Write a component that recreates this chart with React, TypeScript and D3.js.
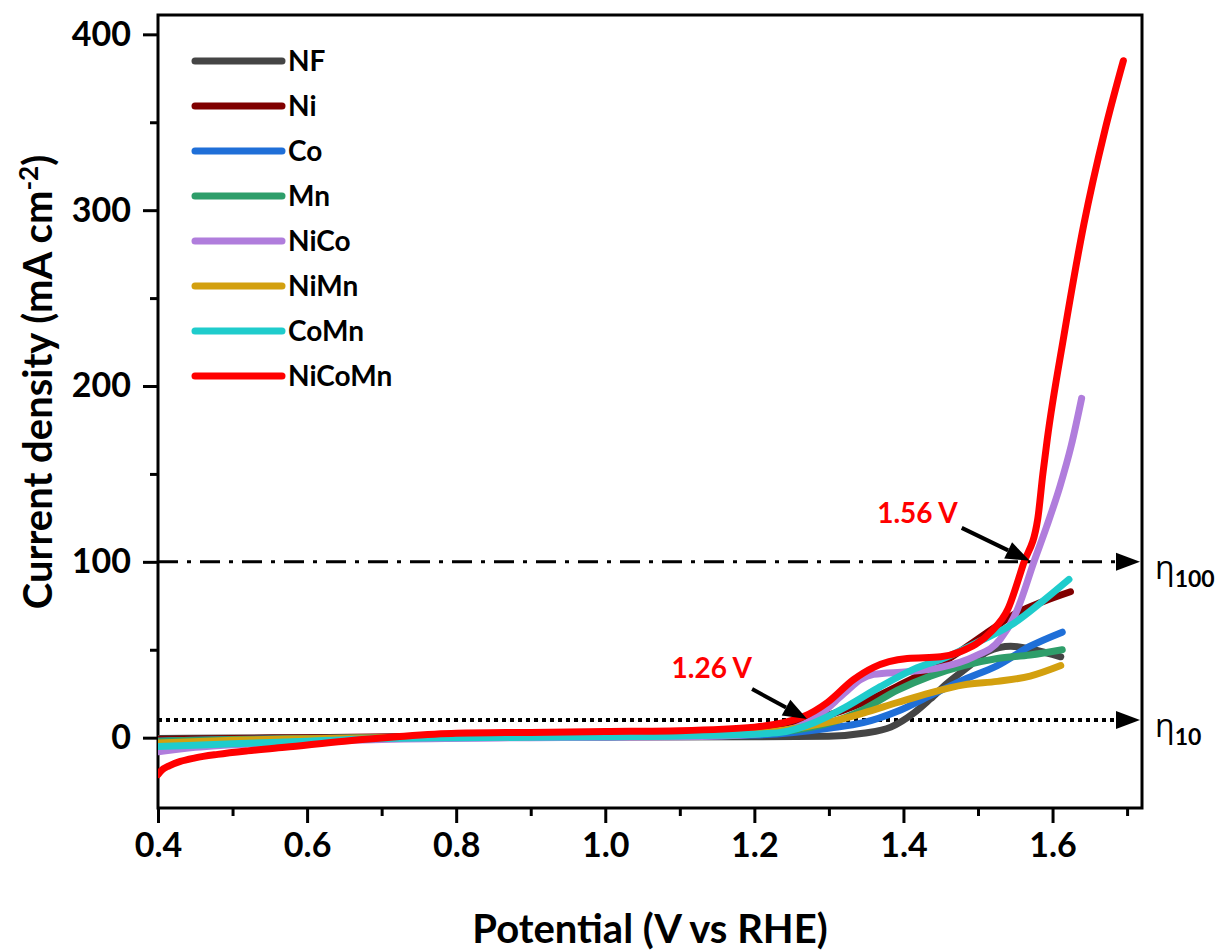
import React, { useRef, useEffect } from "react";
import * as d3 from "d3";

// potential (V vs RHE), current density (mA cm-2) pairs
const NF: [number, number][] = [
  [0.4, -0.5], [0.5, -0.2], [0.6, 0], [0.8, 0.2], [1.0, 0.3], [1.2, 0.5], [1.3, 0.8],
  [1.346, 2.5], [1.383, 6], [1.414, 14], [1.436, 22], [1.459, 31], [1.486, 40],
  [1.513, 49], [1.544, 52], [1.575, 50], [1.611, 46],
];
const Ni: [number, number][] = [
  [0.4, -1], [0.5, -0.5], [0.6, 0], [0.8, 1], [1.0, 2], [1.1, 3], [1.2, 5], [1.25, 8],
  [1.293, 12], [1.346, 20], [1.4, 31], [1.45, 42], [1.486, 52], [1.52, 62],
  [1.548, 70], [1.585, 77], [1.624, 83],
];
const Co: [number, number][] = [
  [0.4, -2], [0.5, -1], [0.7, 0], [1.0, 0.5], [1.2, 1.5], [1.302, 5.5], [1.346, 8.5],
  [1.392, 15], [1.436, 24], [1.481, 33], [1.526, 41], [1.57, 52], [1.613, 60],
];
const Mn: [number, number][] = [
  [0.4, -2], [0.5, -1], [0.7, 0], [1.0, 1], [1.2, 2.5], [1.258, 4.5], [1.302, 8.5],
  [1.346, 16], [1.392, 27], [1.436, 35], [1.481, 41], [1.526, 45], [1.57, 47], [1.613, 50],
];
const NiCo: [number, number][] = [
  [0.4, -8], [0.45, -5.5], [0.55, -3], [0.7, -1], [0.9, 0], [1.1, 0.5], [1.2, 2],
  [1.25, 5], [1.284, 12], [1.32, 25], [1.342, 33], [1.36, 36], [1.405, 37.5],
  [1.45, 40], [1.494, 46], [1.53, 56], [1.553, 73], [1.575, 100], [1.592, 120],
  [1.61, 143], [1.625, 166], [1.639, 193],
];
const NiMn: [number, number][] = [
  [0.4, -3], [0.5, -1.5], [0.7, 0], [1.0, 1], [1.2, 2.5], [1.258, 5.5], [1.302, 9],
  [1.346, 14], [1.392, 20], [1.436, 25.5], [1.481, 30], [1.526, 32], [1.57, 35], [1.611, 41],
];
const CoMn: [number, number][] = [
  [0.4, -5], [0.5, -3.5], [0.6, -2], [0.7, -0.5], [0.8, 0], [1.0, 0.5], [1.2, 2],
  [1.235, 3], [1.28, 8.5], [1.325, 18], [1.369, 29], [1.414, 39], [1.459, 46],
  [1.503, 55], [1.548, 65], [1.585, 77], [1.622, 90],
];
const NiCoMn: [number, number][] = [
  [0.4, -21], [0.405, -18.5], [0.415, -16], [0.43, -13.5], [0.45, -11.5], [0.48, -9.5],
  [0.52, -7.5], [0.57, -5.5], [0.65, -2], [0.72, 0.5], [0.8, 2.5], [0.9, 3], [1.0, 3.5],
  [1.1, 4], [1.2, 6], [1.266, 12], [1.298, 20], [1.333, 33], [1.36, 40], [1.405, 45],
  [1.45, 46], [1.477, 49], [1.517, 60], [1.54, 73], [1.561, 99], [1.58, 124],
  [1.587, 150], [1.593, 170], [1.615, 228], [1.642, 292], [1.67, 345], [1.695, 385],
];

const seriesNames = ["NF", "Ni", "Co", "Mn", "NiCo", "NiMn", "CoMn", "NiCoMn"];
const seriesData = [NF, Ni, Co, Mn, NiCo, NiMn, CoMn, NiCoMn];
const seriesColors = ["#454545", "#800000", "#1f6fd8", "#2e9e6a", "#b07ddc", "#d3a00f", "#1fcccc", "#ff0000"];

const xTicks = [0.4, 0.6, 0.8, 1.0, 1.2, 1.4, 1.6];
const yTicks = [0, 100, 200, 300, 400];

// horizontal reference levels and the annotated crossings
const levels = [10, 100];
const levelLabels = ["10", "100"];
const marks = [
  { v: 1.26, j: 10, label: "1.26 V" },
  { v: 1.56, j: 100, label: "1.56 V" },
];

const W = 1220;
const H = 951;
const m = { left: 158, right: 1142, top: 15, bottom: 808 };
const FONT = "Lato, 'Open Sans', sans-serif";

const App = () => {
  const svgRef = useRef<SVGSVGElement>(null);

  useEffect(() => {
    const svg = d3.select(svgRef.current);
    svg.selectAll("*").remove();

    const x = d3.scaleLinear().domain([0.4, 1.72]).range([m.left, m.right]);
    const y = d3.scaleLinear().domain([-40, 411]).range([m.bottom, m.top]);

    svg
      .append("defs")
      .append("clipPath")
      .attr("id", "plot")
      .append("rect")
      .attr("x", m.left)
      .attr("y", m.top)
      .attr("width", m.right - m.left)
      .attr("height", m.bottom - m.top);

    // x axis, majors and minors
    svg
      .append("g")
      .attr("transform", `translate(0,${m.bottom})`)
      .call(d3.axisBottom(x).tickValues(d3.range(0.5, 1.75, 0.2)).tickSize(8).tickFormat(() => ""))
      .call((g) => g.select(".domain").remove())
      .call((g) => g.selectAll("line").attr("stroke-width", 3));
    svg
      .append("g")
      .attr("transform", `translate(0,${m.bottom})`)
      .call(d3.axisBottom(x).tickValues(xTicks).tickSize(15).tickPadding(10).tickFormat(d3.format(".1f")))
      .call((g) => g.select(".domain").remove())
      .call((g) => g.selectAll("line").attr("stroke-width", 3))
      .call((g) =>
        g.selectAll("text").attr("font-family", FONT).attr("font-weight", 700).attr("font-size", 34).attr("fill", "#000")
      );

    // y axis
    svg
      .append("g")
      .attr("transform", `translate(${m.left},0)`)
      .call(d3.axisLeft(y).tickValues([50, 150, 250, 350]).tickSize(8).tickFormat(() => ""))
      .call((g) => g.select(".domain").remove())
      .call((g) => g.selectAll("line").attr("stroke-width", 3));
    svg
      .append("g")
      .attr("transform", `translate(${m.left},0)`)
      .call(d3.axisLeft(y).tickValues(yTicks).tickSize(15).tickPadding(12))
      .call((g) => g.select(".domain").remove())
      .call((g) => g.selectAll("line").attr("stroke-width", 3))
      .call((g) =>
        g.selectAll("text").attr("font-family", FONT).attr("font-weight", 700).attr("font-size", 34).attr("fill", "#000")
      );

    // frame
    svg
      .append("rect")
      .attr("x", m.left)
      .attr("y", m.top)
      .attr("width", m.right - m.left)
      .attr("height", m.bottom - m.top)
      .attr("fill", "none")
      .attr("stroke", "#000")
      .attr("stroke-width", 3);

    // reference lines with arrow heads
    const tipX = m.right - 2;
    levels.forEach((lv, i) => {
      const yy = y(lv);
      svg
        .append("line")
        .attr("x1", m.left)
        .attr("x2", tipX - 22)
        .attr("y1", yy)
        .attr("y2", yy)
        .attr("stroke", "#000")
        .attr("stroke-width", i === 0 ? 4 : 3)
        .attr("stroke-dasharray", i === 0 ? "4 4" : "20 9 4 9");
      svg
        .append("path")
        .attr("d", `M${tipX},${yy} L${tipX - 24},${yy - 9} L${tipX - 24},${yy + 9} Z`)
        .attr("fill", "#000");
      const lab = svg
        .append("text")
        .attr("x", 1155)
        .attr("y", yy + 17)
        .attr("font-family", "'Open Sans', sans-serif")
        .attr("font-size", 32)
        .attr("fill", "#000");
      lab.append("tspan").text("η");
      lab
        .append("tspan")
        .attr("dy", 8)
        .attr("font-size", 23)
        .attr("font-weight", 700)
        .attr("font-family", FONT)
        .text(levelLabels[i]);
    });

    // curves
    const line = d3
      .line<[number, number]>()
      .x((d) => x(d[0]))
      .y((d) => y(d[1]))
      .curve(d3.curveMonotoneX);

    svg
      .append("g")
      .attr("clip-path", "url(#plot)")
      .selectAll("path")
      .data(seriesData)
      .join("path")
      .attr("d", (d) => line(d))
      .attr("fill", "none")
      .attr("stroke", (_, i) => seriesColors[i])
      .attr("stroke-width", 7)
      .attr("stroke-linecap", "round")
      .attr("stroke-linejoin", "round");

    // annotations: arrow from the label down to the crossing point
    marks.forEach((mk, i) => {
      const tx = x(mk.v) + (i === 0 ? 8 : 7);
      const ty = y(mk.j) - 1;
      const sx = tx - (i === 0 ? 55 : 68);
      const sy = ty - (i === 0 ? 30 : 33);
      const ang = Math.atan2(ty - sy, tx - sx);
      const hl = 24;
      const hw = 9;
      const bx = tx - hl * Math.cos(ang);
      const by = ty - hl * Math.sin(ang);
      svg
        .append("line")
        .attr("x1", sx)
        .attr("y1", sy)
        .attr("x2", bx)
        .attr("y2", by)
        .attr("stroke", "#000")
        .attr("stroke-width", 4);
      svg
        .append("path")
        .attr(
          "d",
          `M${tx},${ty} L${bx + hw * Math.sin(ang)},${by - hw * Math.cos(ang)} L${bx - hw * Math.sin(ang)},${by + hw * Math.cos(ang)} Z`
        )
        .attr("fill", "#000");
      svg
        .append("text")
        .attr("x", sx - (i === 0 ? 0 : 4))
        .attr("y", sy - (i === 0 ? 11 : 5))
        .attr("text-anchor", "end")
        .attr("font-family", FONT)
        .attr("font-weight", 700)
        .attr("font-size", 28)
        .attr("fill", "#ff0000")
        .text(mk.label);
    });

    // legend
    const lg = svg
      .append("g")
      .selectAll("g")
      .data(seriesNames)
      .join("g")
      .attr("transform", (_, i) => `translate(195,${61 + i * 45})`);
    lg.append("line")
      .attr("x1", 0)
      .attr("x2", 87)
      .attr("stroke", (_, i) => seriesColors[i])
      .attr("stroke-width", 7)
      .attr("stroke-linecap", "round");
    lg.append("text")
      .attr("x", 93)
      .attr("y", 10)
      .attr("font-family", FONT)
      .attr("font-weight", 700)
      .attr("font-size", 28)
      .attr("fill", "#000")
      .text((d) => d);

    // axis titles
    svg
      .append("text")
      .attr("x", (m.left + m.right) / 2)
      .attr("y", 943)
      .attr("text-anchor", "middle")
      .attr("font-family", FONT)
      .attr("font-weight", 700)
      .attr("font-size", 40)
      .attr("fill", "#000")
      .text("Potential (V vs RHE)");

    const yt = svg
      .append("text")
      .attr("transform", `translate(52,382) rotate(-90)`)
      .attr("text-anchor", "middle")
      .attr("font-family", FONT)
      .attr("font-weight", 700)
      .attr("font-size", 40)
      .attr("fill", "#000");
    yt.append("tspan").text("Current density (mA cm");
    yt.append("tspan").attr("dy", -14).attr("font-size", 26).text("-2");
    yt.append("tspan").attr("dy", 14).text(")");
  }, []);

  return (
    <svg
      ref={svgRef}
      width={W}
      height={H}
      style={{ position: "absolute", left: 0, top: 0, background: "#fff" }}
    />
  );
};

export default App;
